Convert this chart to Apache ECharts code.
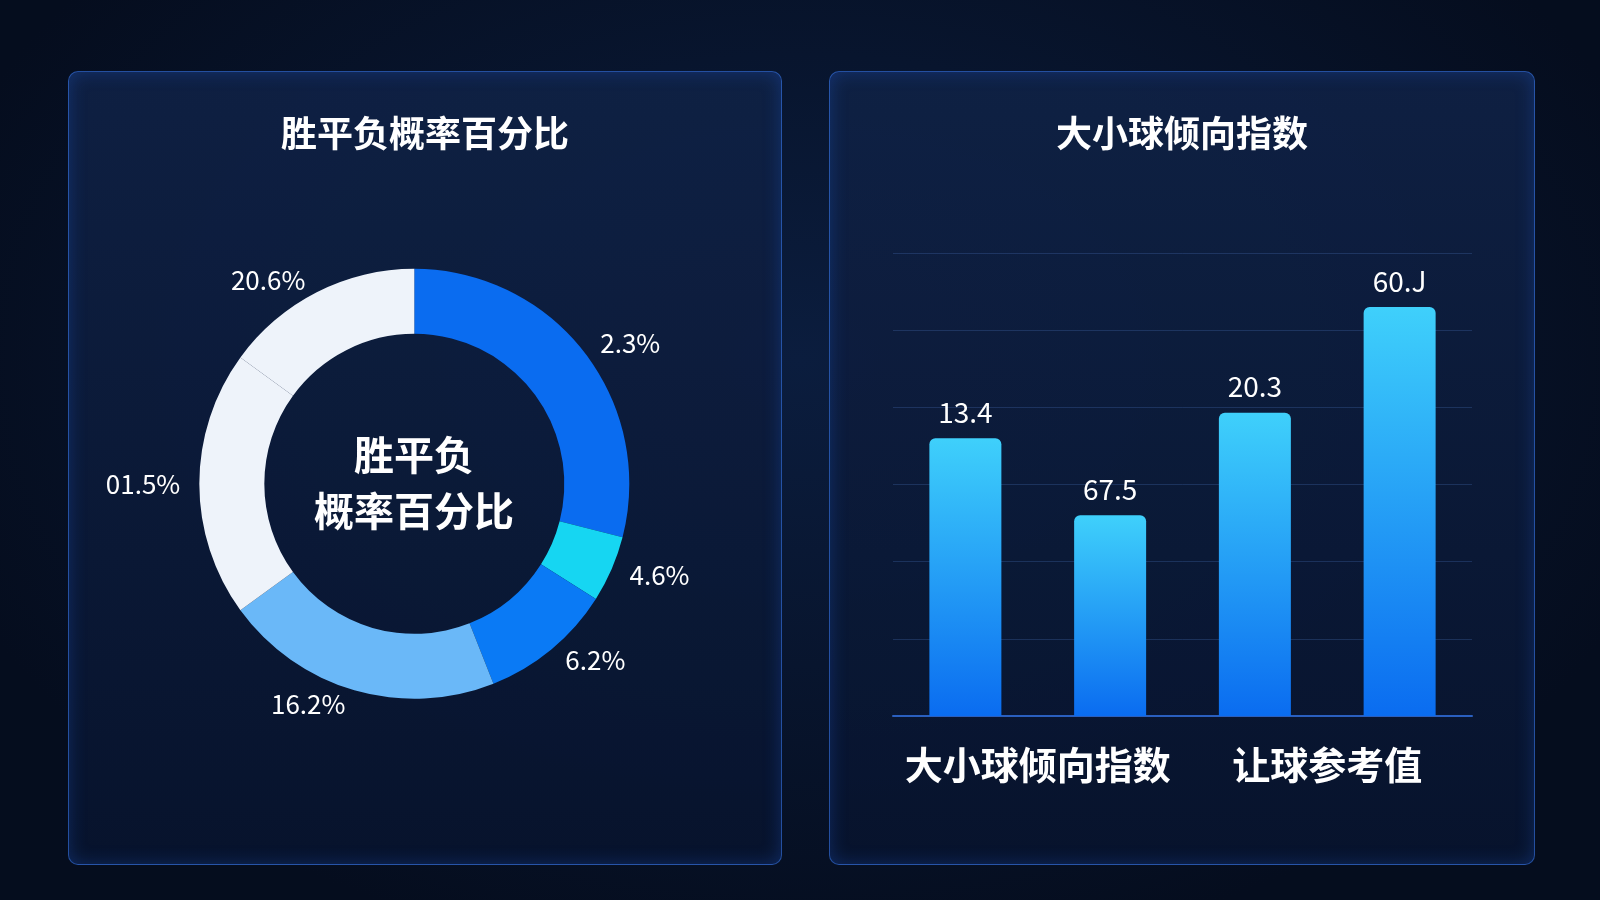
<!DOCTYPE html>
<html><head><meta charset="utf-8">
<script src="https://cdn.jsdelivr.net/npm/echarts@6/dist/echarts.min.js"></script>
<style>
html,body{margin:0;height:100%;background:radial-gradient(ellipse at 50% 40%,#0b1d3e 0%,#050d1e 80%);}
.panel{position:absolute;border:1.5px solid rgba(60,130,255,0.55);border-radius:10px;background:linear-gradient(180deg,rgba(16,34,70,0.9),rgba(8,20,46,0.9));box-shadow:0 0 18px rgba(40,110,255,0.25) inset;}
#pie{left:68px;top:71px;width:712px;height:792px;}
#bar{left:829px;top:71px;width:704px;height:792px;}
</style></head><body>
<div id="pie" class="panel"></div>
<div id="bar" class="panel"></div>
<script>
var pieNames = ['A','B','C','D','E','F'];
var pieValues = [29, 5, 10, 21, 20, 15];
var pieLabels = ['2.3%','4.6%','6.2%','16.2%','01.5%','20.6%'];
var pieColors = ['#0a6cf0','#16d6f2','#0a7af5','#6ab8f8','#eef3fa','#eef3fa'];

var barCategories = ['1','2','3','4'];
var barValues = [3.6, 2.6, 3.93, 5.3];
var barLabels = ['13.4','67.5','20.3','60.J'];
var groupLabels = ['大小球倾向指数','让球参考值'];

var font = '"Noto Sans CJK SC", sans-serif';

var pieChart = echarts.init(document.getElementById('pie'));
pieChart.setOption({
  title: {text:'胜平负概率百分比', left:'center', top:38, textStyle:{color:'#fff', fontSize:36, fontWeight:'bold', fontFamily:font}},
  graphic: [{type:'text', x:345, y:355, style:{text:'胜平负\n概率百分比', fill:'#fff', font:'bold 40px '+font, align:'center', lineHeight:56}}],
  series: [{
    type:'pie', radius:['150','215'], center:['48.5%','52%'], startAngle:90,
    label:{show:true, position:'outside', color:'#fff', fontSize:26, fontFamily:font,
      formatter:function(p){return pieLabels[p.dataIndex];}},
    labelLine:{show:false, length:14, length2:0},
    itemStyle:{borderWidth:0},
    data: pieNames.map(function(n,i){return {name:n, value:pieValues[i], itemStyle:{color:pieColors[i]}};})
  }]
});

var barChart = echarts.init(document.getElementById('bar'));
barChart.setOption({
  title: {text:'大小球倾向指数', left:'center', top:38, textStyle:{color:'#fff', fontSize:36, fontWeight:'bold', fontFamily:font}},
  grid: {left:63, right:62, top:181, bottom:148},
  xAxis: [
    {type:'category', data:barCategories, axisLine:{lineStyle:{color:'#2a5fbf', width:2}}, axisTick:{show:false}, axisLabel:{show:false}},
    {type:'category', data:groupLabels, position:'bottom', axisLine:{show:false}, axisTick:{show:false},
      axisLabel:{color:'#fff', fontSize:38, fontWeight:'bold', fontFamily:font, margin:30, interval:0}}
  ],
  yAxis: {type:'value', min:0, max:6, interval:1, axisLabel:{show:false}, axisLine:{show:false},
    splitLine:{lineStyle:{color:'rgba(70,110,180,0.3)'}}},
  series: [{
    type:'bar', data:barValues, barWidth:72, xAxisIndex:0,
    itemStyle:{borderRadius:[6,6,0,0], color:new echarts.graphic.LinearGradient(0,0,0,1,[{offset:0,color:'#3fd0fb'},{offset:1,color:'#0a6cf0'}])},
    label:{show:true, position:'top', distance:12, color:'#fff', fontSize:28, fontFamily:font,
      formatter:function(p){return barLabels[p.dataIndex];}}
  }]
});
</script></body></html>
